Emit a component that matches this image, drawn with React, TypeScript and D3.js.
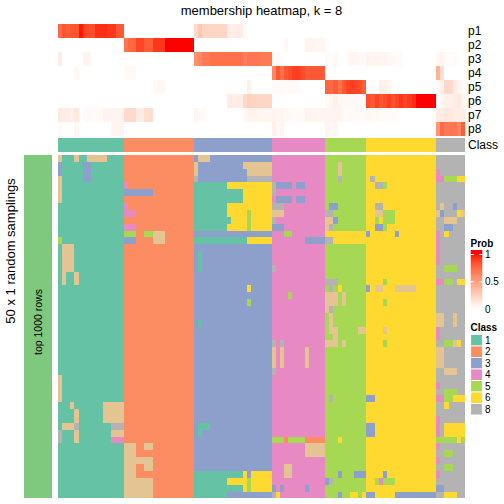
import React from 'react';
import * as d3 from 'd3';

const CLASSES = ['1', '2', '3', '4', '5', '6', '8'];
const CLASS_SIZES = [16, 17, 19, 13, 10, 17, 7];
const CLASS_COLORS: Record<string, string> = {
  '1': '#66C2A5', '2': '#FC8D62', '3': '#8DA0CB', '4': '#E78AC3',
  '5': '#A6D854', '6': '#FFD92F', '7': '#E5C494', '8': '#B3B3B3',
};
const PROB_ROWS = ['p1', 'p2', 'p3', 'p4', 'p5', 'p6', 'p7', 'p8'];
const PROB_TICKS = [0, 0.5, 1];

// membership probabilities, 99 columns each (groups: 16|17|19|13|10|17|7)
const P1 = [
  0.75, 0.83, 0.8, 0.83, 0.83, 0.98, 0.88, 0.86, 0.86, 0.94, 0.94, 0.94, 0.92, 0.92, 0.82, 0.82,
  0, 0, 0, 0, 0, 0, 0, 0, 0, 0, 0, 0, 0, 0, 0, 0, 0,
  0.2, 0.3, 0.22, 0.22, 0.22, 0.22, 0.22, 0.22, 0.1, 0.1, 0.1, 0.1, 0.03, 0, 0, 0, 0, 0, 0,
  0, 0, 0, 0, 0, 0, 0, 0, 0, 0, 0, 0, 0,
  0, 0, 0, 0, 0, 0, 0, 0, 0, 0,
  0, 0, 0, 0, 0, 0, 0, 0, 0, 0, 0, 0, 0, 0, 0, 0, 0,
  0, 0, 0, 0, 0, 0, 0,
];
const P2 = [
  0, 0, 0, 0, 0, 0, 0, 0, 0, 0, 0, 0, 0, 0, 0, 0,
  0.7, 0.76, 0.76, 0.88, 0.88, 0.8, 0.8, 0.92, 0.92, 0.92, 1, 1, 1, 1, 1, 1, 1,
  0, 0, 0, 0, 0, 0, 0, 0, 0, 0, 0, 0, 0, 0, 0, 0, 0, 0, 0,
  0, 0, 0, 0.04, 0, 0, 0, 0, 0.05, 0.05, 0.05, 0.05, 0.05,
  0, 0, 0, 0, 0, 0, 0, 0, 0, 0,
  0, 0, 0, 0, 0, 0, 0, 0, 0, 0, 0, 0, 0, 0, 0, 0, 0,
  0, 0, 0, 0, 0, 0, 0,
];
const P3 = [
  0.1, 0, 0, 0, 0, 0, 0.06, 0.06, 0, 0, 0, 0, 0, 0, 0, 0,
  0, 0, 0, 0, 0, 0, 0, 0, 0, 0, 0, 0, 0, 0, 0, 0, 0,
  0.58, 0.62, 0.68, 0.68, 0.72, 0.72, 0.72, 0.72, 0.72, 0.72, 0.72, 0.72, 0.65, 0.7, 0.7, 0.7, 0.68, 0.68, 0.68,
  0.03, 0.02, 0.02, 0, 0, 0, 0, 0, 0, 0, 0, 0, 0,
  0.03, 0, 0.04, 0, 0, 0.03, 0.05, 0.05, 0.04, 0.02,
  0.06, 0.05, 0.06, 0.05, 0.05, 0.04, 0.04, 0.03, 0.02, 0, 0, 0, 0, 0, 0, 0, 0,
  0.04, 0.06, 0.03, 0.02, 0.03, 0, 0,
];
const P4 = [
  0, 0, 0, 0, 0.04, 0, 0, 0, 0, 0, 0, 0, 0, 0, 0, 0,
  0.03, 0.03, 0.03, 0, 0, 0, 0, 0, 0, 0, 0, 0, 0, 0, 0, 0, 0,
  0, 0, 0, 0, 0, 0, 0, 0, 0, 0, 0, 0, 0, 0, 0, 0, 0, 0, 0,
  0.62, 0.82, 0.72, 0.82, 0.86, 0.9, 0.9, 0.86, 0.8, 0.82, 0.82, 0.82, 0.8,
  0, 0, 0, 0, 0, 0, 0, 0, 0, 0,
  0, 0, 0, 0, 0, 0, 0, 0, 0, 0, 0, 0, 0, 0, 0, 0, 0,
  0.4, 0.18, 0, 0, 0, 0, 0,
];
const P5 = [
  0, 0, 0, 0, 0, 0, 0, 0, 0, 0, 0, 0, 0, 0, 0, 0,
  0, 0, 0, 0, 0, 0, 0, 0.04, 0.04, 0.04, 0, 0, 0, 0, 0, 0, 0,
  0, 0, 0, 0, 0, 0, 0, 0, 0, 0, 0, 0, 0, 0.08, 0, 0, 0, 0, 0,
  0.02, 0.03, 0.03, 0.02, 0.03, 0.03, 0.02, 0, 0, 0, 0, 0, 0,
  0.78, 0.75, 0.8, 0.72, 0.82, 0.88, 0.9, 0.88, 0.86, 0.8,
  0, 0.03, 0, 0.08, 0.08, 0.05, 0, 0, 0, 0, 0, 0, 0, 0, 0, 0, 0,
  0.03, 0.08, 0.2, 0.2, 0.1, 0.05, 0.03,
];
const P6 = [
  0, 0, 0, 0, 0, 0, 0, 0, 0, 0, 0, 0, 0, 0, 0, 0,
  0, 0, 0, 0, 0, 0, 0, 0, 0, 0, 0, 0, 0, 0, 0, 0, 0,
  0, 0, 0, 0, 0, 0, 0, 0, 0.1, 0.1, 0.1, 0.1, 0.2, 0.25, 0.22, 0.22, 0.22, 0.22, 0.22,
  0, 0, 0, 0, 0, 0, 0, 0, 0, 0, 0, 0, 0,
  0.03, 0.05, 0.08, 0.05, 0.04, 0.04, 0.03, 0.03, 0.03, 0.02,
  0.86, 0.82, 0.88, 0.82, 0.86, 0.9, 0.84, 0.88, 0.93, 0.88, 0.92, 0.95, 1, 1, 1, 1, 1,
  0.02, 0.05, 0.08, 0.08, 0.1, 0.12, 0.05,
];
const P7 = [
  0.12, 0.1, 0.1, 0.08, 0.12, 0, 0.03, 0.03, 0.03, 0.03, 0.03, 0.06, 0.06, 0.06, 0.06, 0.06,
  0.2, 0.2, 0.2, 0.1, 0.1, 0.18, 0.18, 0, 0, 0, 0, 0, 0, 0, 0, 0, 0,
  0.06, 0.03, 0.03, 0, 0, 0, 0, 0, 0, 0, 0, 0, 0.03, 0.06, 0.06, 0.06, 0.05, 0.05, 0.05,
  0.06, 0.06, 0.06, 0.04, 0.04, 0.03, 0.03, 0.03, 0.06, 0.06, 0.06, 0.06, 0.06,
  0.06, 0.06, 0.06, 0.06, 0.03, 0.03, 0.03, 0.03, 0.03, 0.03,
  0.04, 0.04, 0.04, 0.02, 0.02, 0.02, 0.02, 0.02, 0, 0, 0, 0, 0, 0, 0, 0, 0,
  0.1, 0.1, 0.12, 0.12, 0.1, 0.1, 0.1,
];
const P8 = [
  0.03, 0, 0, 0, 0.05, 0, 0, 0, 0, 0, 0, 0, 0, 0.06, 0.06, 0.06,
  0, 0, 0, 0, 0, 0, 0, 0, 0, 0, 0, 0, 0, 0, 0, 0, 0,
  0, 0, 0, 0, 0, 0, 0, 0, 0, 0, 0, 0, 0, 0, 0, 0, 0, 0, 0,
  0.08, 0.03, 0.06, 0, 0, 0, 0, 0, 0, 0, 0, 0, 0,
  0.06, 0.03, 0.05, 0, 0, 0, 0, 0, 0, 0,
  0, 0, 0, 0, 0, 0, 0, 0, 0, 0, 0, 0, 0, 0, 0, 0, 0,
  0.55, 0.75, 0.68, 0.7, 0.7, 0.62, 0.8,
];
const PROBS = [P1, P2, P3, P4, P5, P6, P7, P8];

// 50 random samplings: class per column, grouped by the consensus class
const SAMPLINGS = [
  '7111711777771111|22222222222222222|3777333333333333333|4444444444444|5555555555|66666666666666666|8888888',
  '3111113311111111|22222222222222222|7333333333337777777|4444444444444|5557555555|66666666666666666|8888888',
  '3111113311111111|22222222222222222|7333333333333777777|4444444444444|5557555555|66666666666666666|4888888',
  '7111113311111111|22222222222222222|8333333333333888888|4444444444444|5558555555|68666666666666666|4455566',
  '7111111111111111|42222222222222222|1111111166666666666|8333343344444|5555555555|66885666666666666|8888888',
  '7111111111111111|33333332222222222|1111111111116666666|8444444444444|5555555555|66666666666666666|8888888',
  '7111111111111111|22222222222222222|1111111111116666666|4333343344444|5555555555|66666666666666666|8888888',
  '1111111111111111|42222222222222222|1111111166666666666|8884444444444|5335555555|66886666666666666|8788388',
  '1111111111111111|44422222222222222|1111111166666566666|7774444444444|8855555555|66775556666666666|7388867',
  '1111111111111111|22222222222222222|1111111116666566666|8444444444444|7735555555|66565556666666666|8877788',
  '1111111111111111|44422222222222222|1111111166666566666|3334444444444|7855555555|66335666666666666|8833888',
  '1111111111111111|55522557772222222|3333333333333333333|4445544444444|6666666666|36666663666666666|4868888',
  '5111111111111111|33322227772222222|1111111111111666666|4444444433333|8866666666|66666666666666666|4888888',
  '1777111111111111|22222222222222222|3333333333333333333|4444444444444|5555555555|66666666666666666|4888888',
  '1777111111111111|22222222222222222|3133333333333333333|4444444444444|5555555555|66666666666666666|4888888',
  '1777111111111111|22222222222222222|3133333333333333333|4444444444444|5555555555|66666666666666666|4888888',
  '1777111111111111|22222222222222222|3133333333333333333|8444444444444|5555555555|66666666666666666|8855588',
  '1711711111111111|22222222222222222|3333333333333333333|4444444444444|5555555555|66666666666666666|8888888',
  '1711711111111111|22222222222222222|3333333333333333333|4444444444444|8885555555|66665666666666666|4455866',
  '1111111111111111|22222222222222222|3333333333333633333|4444444444444|5856555555|36776667777766666|8888888',
  '1111111111111111|22222222222222222|3333333333333333333|4444544444444|7775755555|66666666666666666|8888888',
  '1111111111111111|22222222222222222|3333333333333533333|4444444444444|7775755555|66665666666666666|8888888',
  '1111111111111111|22222222222222222|3333333333333333333|4444444444444|7855555555|66666666666666666|8888888',
  '1111111111111111|22222222222222222|3333333333333333333|4444444444444|5755555555|66666666666666666|7788788',
  '1111111111111111|22222222222222222|3133333333333333333|4444444444444|5755555555|66666666666666666|7788788',
  '1111111111111111|22222222222222222|3333333333333333333|4444444444444|5775555577|66667666666666666|4888888',
  '1111111111111111|22222222222222222|3333333333333333333|4444444444444|5575555555|66666666666666666|4888888',
  '1111111111111111|22222222222222222|3333333333333333333|8484444444444|7775755555|66665666666666666|8855768',
  '1111111111111111|22222222222222222|3333333333333333333|7474444474444|5555555555|66666666666666666|7788888',
  '1111111111111111|22222222222222222|3333333333333333333|7474444474444|5555555555|66666666666666666|7788888',
  '1111111111111111|22222222222222222|3333333333333333333|7474444474444|5555555555|66666666666666666|7788888',
  '1111111111111111|22222222222222222|3333333333333333333|8444444444444|5555555555|66666666666666666|8877788',
  '7111111111111111|22222222222222222|3333333333333333333|4444444444444|5555555555|66666666666666666|8888888',
  '7111111111111111|22222222222222222|3333333333333333333|4444444444444|5555555555|66666666666666666|4888888',
  '7111111111111111|22222222222222222|3333333333333333333|4444444444444|5555555555|66666666666666666|8855588',
  '7111111111111111|22222222222222222|3333333333333333333|4444444444444|5855555555|33666666666666666|4455666',
  '1117111111177777|22222222222222222|3333333333333333333|4444444444444|5555555555|66666666666666666|8868888',
  '1111711111177777|22222222222222222|3333333333333333333|4444444444444|5555555555|66666666666666666|8888888',
  '1111711111177777|22222222222222222|3333333333333333333|4444444444444|5555555555|66666666666666666|4888888',
  '1777811111111888|22222222222222222|3111333333333333333|4444444444444|5555555555|33666666666666666|4866666',
  '8111711111111777|22222222222222222|3133333333333333333|4444444444444|5555555555|33666666666666666|4866666',
  '8111711111111444|22222222222222222|3333333333333333333|5552555522222|5556555555|66666666666666666|5555565',
  '1111111111111111|77722772222222222|3333333333333333333|4444444477777|5555555555|66666666666666666|4888888',
  '1111111111111111|77722222222222222|3333333333333333333|4444444477777|5555555555|66666666666666666|8855888',
  '1111111111111111|77777772222222222|3333333333333333333|4444444444444|5555555555|66666666666666666|4888888',
  '1111111111111111|77722772222222222|3333333333333333333|4447744444444|5555555555|66666666666666666|8855888',
  '1111111111111111|77722222222222222|1111111111116366666|4447744444444|5553555333|66663666666666666|4888888',
  '1111111111111111|77777772222222222|1111111166666566666|4444444444444|3855555555|66545556666666666|8888888',
  '1111111111111111|77777772222222222|1111111111116566666|3434444434444|5555555555|66666666666666666|3388888',
  '1111111111111111|77777772222222222|1111111133333333333|8644444444444|5553556656|33666663333333333|8866688',
];

const FONT = "'Liberation Sans', Arial, Helvetica, sans-serif";

export default function App() {
  const columnClass: string[] = CLASSES.flatMap((c, i) => Array(CLASS_SIZES[i]).fill(c));
  const nCol = columnClass.length;

  const rows: string[][] = SAMPLINGS.map((s) => {
    const segs = s.split('|');
    return CLASSES.flatMap((c, i) => {
      const seg = (segs[i] || '').padEnd(CLASS_SIZES[i], c).slice(0, CLASS_SIZES[i]);
      return seg.split('');
    });
  });

  const x = d3.scaleBand<number>().domain(d3.range(nCol)).range([58, 465]);
  const yProb = d3.scaleBand<string>().domain(PROB_ROWS).range([24, 136]);
  const ySamp = d3.scaleBand<number>().domain(d3.range(rows.length)).range([155, 498.4]);
  const probColor = d3.scaleLinear<string>().domain([0, 1]).range(['#ffffff', '#ff0000']).interpolate(d3.interpolateLab).clamp(true);

  const bw = x.bandwidth();
  // snapped cell edges so cells tile without seams
  const x0 = (c: number) => Math.round(x(c)!);
  const x1 = (c: number) => Math.round(x(c)! + bw);
  const sy0 = (r: number) => Math.round(ySamp(r)!);
  const sy1 = (r: number) => Math.round(ySamp(r)! + ySamp.bandwidth());

  // run-length merge each sampling row
  const runs: { r: number; c0: number; c1: number; cl: string }[] = [];
  rows.forEach((row, r) => {
    let start = 0;
    for (let c = 1; c <= row.length; c++) {
      if (c === row.length || row[c] !== row[start]) {
        runs.push({ r, c0: start, c1: c - 1, cl: row[start] });
        start = c;
      }
    }
  });
  const classRuns: { c0: number; c1: number; cl: string }[] = [];
  {
    let start = 0;
    for (let c = 1; c <= nCol; c++) {
      if (c === nCol || columnClass[c] !== columnClass[start]) {
        classRuns.push({ c0: start, c1: c - 1, cl: columnClass[start] });
        start = c;
      }
    }
  }

  const legY = d3.scaleLinear().domain([0, 1]).range([309, 254.5]);
  const barTop = 250, barBot = 312;
  const gradStops = d3.range(0, 21).map((i) => {
    const yy = barTop + (i / 20) * (barBot - barTop);
    const v = Math.max(0, Math.min(1, legY.invert(yy)));
    return { off: i / 20, color: probColor(v) };
  });

  const legendClasses = CLASSES;
  const swTop = 334.5, swStep = 11.5;

  return (
    <svg width={504} height={504} style={{ position: 'absolute', left: 0, top: 0, background: '#fff' }} fontFamily={FONT}>
      <defs>
        <linearGradient id="probgrad" x1="0" y1="0" x2="0" y2="1">
          {gradStops.map((s, i) => (
            <stop key={i} offset={s.off} stopColor={s.color} />
          ))}
        </linearGradient>
      </defs>
      <rect x={0} y={0} width={504} height={504} fill="#fff" />
      <text x={261.5} y={14.5} textAnchor="middle" fontSize={13} fill="#000">membership heatmap, k = 8</text>

      <g shapeRendering="crispEdges">
        {PROBS.map((row, r) => {
          const ya = Math.round(yProb(PROB_ROWS[r])!);
          const yb = Math.round(yProb(PROB_ROWS[r])! + yProb.bandwidth());
          return row.map((v, c) => (
            <rect key={`p${r}-${c}`} x={x0(c)} y={ya} width={x1(c) - x0(c)} height={yb - ya} fill={probColor(v)} />
          ));
        })}
        {classRuns.map((run, i) => (
          <rect key={`a${i}`} x={x0(run.c0)} y={138} width={x1(run.c1) - x0(run.c0)} height={14} fill={CLASS_COLORS[run.cl]} />
        ))}
        {runs.map((run, i) => (
          <rect key={`s${i}`} x={x0(run.c0)} y={sy0(run.r)} width={x1(run.c1) - x0(run.c0)} height={sy1(run.r) - sy0(run.r)} fill={CLASS_COLORS[run.cl]} />
        ))}
        <rect x={24} y={155} width={28} height={343} fill="#7FC97F" />
      </g>

      {PROB_ROWS.map((p) => (
        <text key={p} x={468} y={yProb(p)! + yProb.bandwidth() / 2} dy="0.35em" fontSize={12} fill="#000">{p}</text>
      ))}
      <text x={468} y={145.2} dy="0.35em" fontSize={12} fill="#000">Class</text>

      <text transform={`translate(${38},${322}) rotate(-90)`} textAnchor="middle" dy="0.35em" fontSize={10.5} fill="#000">top 1000 rows</text>
      <text transform={`translate(${10},${251}) rotate(-90)`} textAnchor="middle" dy="0.35em" fontSize={13} fill="#000">50 x 1 random samplings</text>

      <text x={470.5} y={247} fontSize={10} fontWeight="bold" fill="#000">Prob</text>
      <rect x={470.7} y={barTop} width={11.6} height={barBot - barTop} fill="url(#probgrad)" />
      {PROB_TICKS.filter((t) => t > 0).map((t) => (
        <g key={t}>
          <line x1={470.7} x2={473.7} y1={legY(t)} y2={legY(t)} stroke="#fff" strokeWidth={1} />
          <line x1={479.3} x2={482.3} y1={legY(t)} y2={legY(t)} stroke="#fff" strokeWidth={1} />
        </g>
      ))}
      {PROB_TICKS.map((t) => (
        <text key={`l${t}`} x={485} y={legY(t)} dy="0.35em" fontSize={10} fill="#000">{String(t)}</text>
      ))}

      <text x={470.5} y={331} fontSize={10} fontWeight="bold" fill="#000">Class</text>
      {legendClasses.map((cl, i) => (
        <g key={`lg${cl}`}>
          <rect x={470.7} y={swTop + i * swStep} width={11.6} height={swStep} fill={CLASS_COLORS[cl]} stroke="#fff" strokeWidth={0.8} />
          <text x={485} y={swTop + i * swStep + swStep / 2} dy="0.35em" fontSize={10} fill="#000">{cl}</text>
        </g>
      ))}
    </svg>
  );
}
